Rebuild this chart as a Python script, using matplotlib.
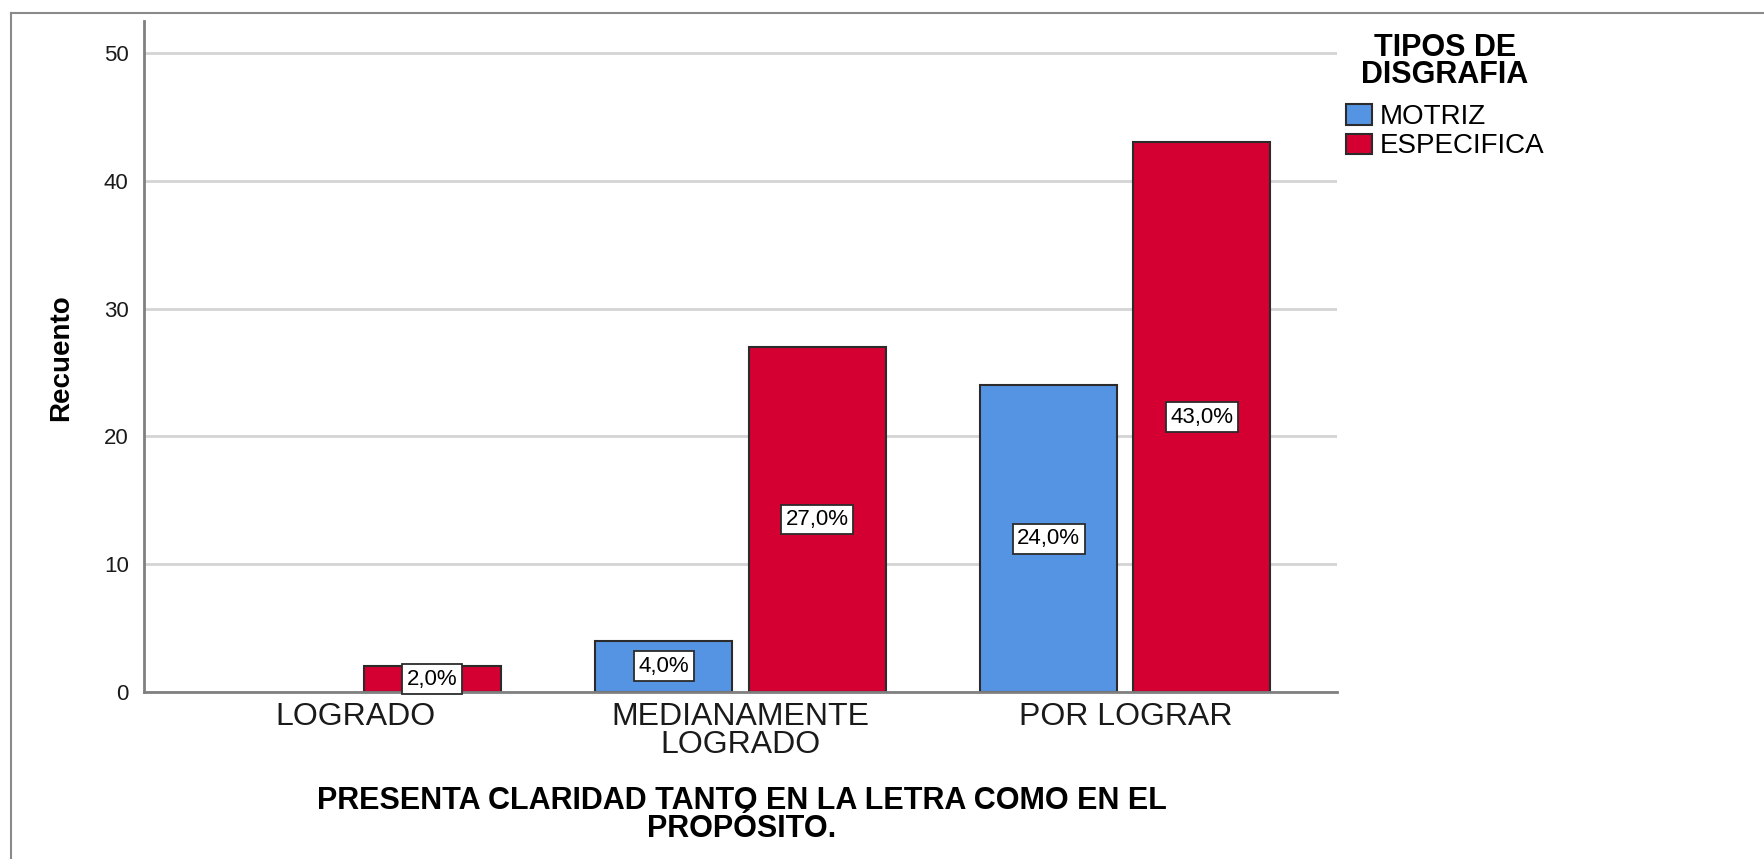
import matplotlib
matplotlib.use("Agg")
import matplotlib.pyplot as plt
import numpy as np
from matplotlib.patches import Patch
from matplotlib.lines import Line2D

plt.rcParams['font.family'] = ['Liberation Sans', 'DejaVu Sans']

categories = ["LOGRADO", "MEDIANAMENTE\nLOGRADO", "POR LOGRAR"]
series_names = ["MOTRIZ", "ESPECIFICA"]
motriz = [0, 4, 24]
especifica = [2, 27, 43]
motriz_pct = ["", "4,0%", "24,0%"]
especifica_pct = ["2,0%", "27,0%", "43,0%"]
y_ticks = [0, 10, 20, 30, 40, 50]
x_title = "PRESENTA CLARIDAD TANTO EN LA LETRA COMO EN EL\nPROPÓSITO."
y_title = "Recuento"
legend_title = "TIPOS DE\nDISGRAFIA"

blue = "#5594E3"
red = "#D50032"
edge = "#2b2b2b"

fig = plt.figure(figsize=(17.64, 8.59), dpi=100)
ax = fig.add_axes([144/1764, 1-692/859, (1337-144)/1764, (692-21)/859])

x = np.arange(len(categories))
off = 0.199
w = 0.356
b1 = ax.bar(x - off, motriz, w, color=blue, edgecolor=edge, linewidth=1.5, zorder=3)
b2 = ax.bar(x + off, especifica, w, color=red, edgecolor=edge, linewidth=1.5, zorder=3)
for bars in (b1, b2):
    for r in bars:
        if r.get_height() == 0:
            r.set_linewidth(0)

box = dict(boxstyle="square,pad=0.2", fc="white", ec=edge, lw=1.3)
for xi, v, t in zip(x - off, motriz, motriz_pct):
    if t:
        ax.text(xi, v/2, t, ha="center", va="center", fontsize=16, bbox=box, zorder=5)
for xi, v, t in zip(x + off, especifica, especifica_pct):
    if t:
        ax.text(xi, v/2, t, ha="center", va="center", fontsize=16, bbox=box, zorder=5)

ax.set_xlim(-0.55, 2.55)
ax.set_ylim(0, 52.5)
ax.set_yticks(y_ticks)
ax.set_xticks(x)
ax.set_xticklabels(categories, fontsize=23, linespacing=0.92, color="#1a1a1a")
ax.tick_params(axis="y", labelsize=16, length=0, pad=11, colors="#1a1a1a")
ax.tick_params(axis="x", length=0, pad=7)
ax.grid(axis="y", color="#d4d4d4", linewidth=2, zorder=0)
for s in ["top", "right"]:
    ax.spines[s].set_visible(False)
for s in ["left", "bottom"]:
    ax.spines[s].set_color("#808080")
    ax.spines[s].set_linewidth(2)
    ax.spines[s].set_zorder(4)

fig.text(61/1764, 1-358/859, y_title, rotation=90, ha="center", va="center",
         fontsize=20, fontweight="bold")
fig.text(742/1764, 1-815/859, x_title, ha="center", va="center", fontsize=22,
         fontweight="bold", linespacing=0.92)

# legend
handles = [Patch(facecolor=blue, edgecolor=edge, linewidth=1.5),
           Patch(facecolor=red, edgecolor=edge, linewidth=1.5)]
leg = fig.legend(handles, series_names, loc="upper left",
                 bbox_to_anchor=(1346/1764, 1-33/859), frameon=False,
                 fontsize=20, title=legend_title,
                 title_fontproperties={"weight": "bold", "size": 22},
                 handlelength=0.95, handleheight=0.75, handletextpad=0.25,
                 labelspacing=0.12, borderpad=0, borderaxespad=0)
leg._legend_box.align = "center"
leg._legend_box.sep = 10
leg.get_title().set_linespacing(0.88)
leg.get_title().set_ha("center")

# outer frame lines (top and left)
fig.add_artist(Line2D([11/1764, 1], [1-13/859, 1-13/859], color="#8a8a8a", lw=1.5))
fig.add_artist(Line2D([11/1764, 11/1764], [0, 1-13/859], color="#8a8a8a", lw=1.5))

fig.savefig("out.png", dpi=100)
